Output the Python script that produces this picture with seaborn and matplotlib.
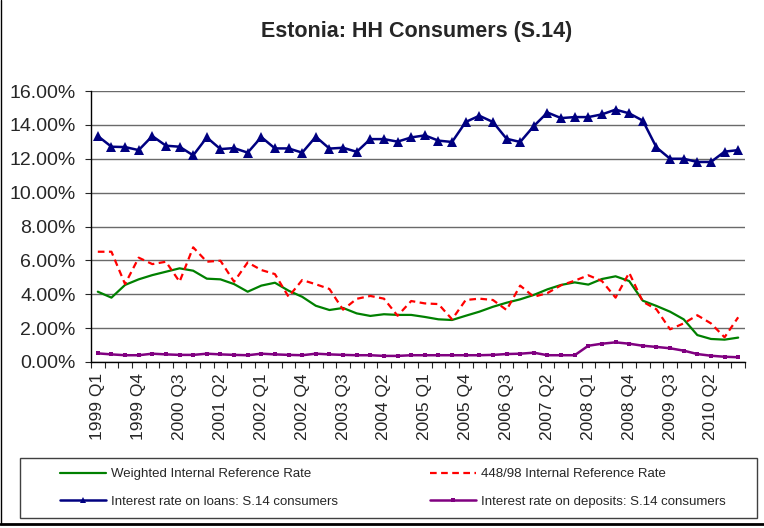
import numpy as np
import pandas as pd
import matplotlib.pyplot as plt
import seaborn as sns
from matplotlib.lines import Line2D
from matplotlib.patches import Rectangle
from matplotlib.ticker import FixedLocator, FuncFormatter

# quarters 1999 Q1 .. 2010 Q4
years = [str(y) for y in range(1999, 2011)]
quarters = [f"{y} Q{q}" for y in years for q in range(1, 5)]

weighted_rate = [4.15, 3.80, 4.55, 4.88, 5.13, 5.33, 5.53, 5.39, 4.92, 4.88, 4.60, 4.15,
                 4.51, 4.68, 4.21, 3.85, 3.32, 3.07, 3.19, 2.87, 2.72, 2.82, 2.78, 2.78,
                 2.66, 2.52, 2.48, 2.73, 2.97, 3.26, 3.50, 3.70, 3.96, 4.29, 4.55, 4.70,
                 4.57, 4.90, 5.06, 4.78, 3.62, 3.31, 2.97, 2.52, 1.59, 1.36, 1.32, 1.44]
rate_448 = [6.51, 6.51, 4.60, 6.16, 5.78, 5.92, 4.74, 6.77, 5.92, 5.98, 4.74, 5.88,
            5.43, 5.19, 3.85, 4.84, 4.59, 4.31, 3.09, 3.73, 3.90, 3.74, 2.73, 3.60,
            3.46, 3.42, 2.52, 3.66, 3.74, 3.66, 3.07, 4.51, 3.85, 4.07, 4.53, 4.80,
            5.12, 4.78, 3.80, 5.27, 3.56, 3.11, 1.93, 2.28, 2.76, 2.28, 1.46, 2.64]
loans_rate = [13.34, 12.71, 12.69, 12.51, 13.34, 12.77, 12.71, 12.20, 13.26, 12.57, 12.63, 12.36,
              13.28, 12.61, 12.61, 12.36, 13.30, 12.60, 12.65, 12.41, 13.16, 13.16, 13.01, 13.26,
              13.38, 13.07, 12.99, 14.17, 14.54, 14.17, 13.18, 12.99, 13.93, 14.73, 14.40, 14.46,
              14.46, 14.62, 14.90, 14.68, 14.25, 12.67, 12.00, 12.00, 11.81, 11.81, 12.42, 12.51]
deposits_rate = [0.51, 0.45, 0.40, 0.40, 0.49, 0.45, 0.42, 0.42, 0.49, 0.45, 0.42, 0.40,
                 0.49, 0.45, 0.42, 0.40, 0.49, 0.45, 0.42, 0.40, 0.40, 0.36, 0.36, 0.40,
                 0.40, 0.40, 0.40, 0.40, 0.40, 0.42, 0.47, 0.49, 0.55, 0.40, 0.40, 0.40,
                 0.96, 1.08, 1.16, 1.08, 0.96, 0.89, 0.81, 0.67, 0.47, 0.37, 0.31, 0.28]

df = pd.DataFrame({'period': quarters, 'pos': np.arange(len(quarters)),
                   'weighted': weighted_rate, 'r448': rate_448,
                   'loans': loans_rate, 'deposits': deposits_rate})

sns.set_style("white")
plt.rcParams['font.family'] = ['Liberation Sans', 'DejaVu Sans']

fig = plt.figure(figsize=(7.64, 5.28), dpi=100)
ax = fig.add_axes([91/764, 1 - 362/528, 654/764, 271/528])

sns.lineplot(data=df, x='pos', y='weighted', ax=ax, color='#008000', lw=1.6)
sns.lineplot(data=df, x='pos', y='r448', ax=ax, color='#ff0000', lw=1.6)
ax.lines[-1].set_dashes([3, 2])
sns.lineplot(data=df, x='pos', y='loans', ax=ax, color='#000080', lw=1.8,
             marker='^', markersize=6.5, markeredgewidth=0)
sns.lineplot(data=df, x='pos', y='deposits', ax=ax, color='#800080', lw=1.8,
             marker='s', markersize=3, markeredgewidth=0)

ax.set_xlim(-0.5, len(quarters) - 0.5)
ax.set_ylim(0, 16)
ax.set_yticks(np.arange(0, 17, 2))
ax.yaxis.set_major_formatter(FuncFormatter(lambda v, p: f"{v:.2f}%"))
ax.grid(axis='y', color='#6a6a6a', lw=1)
ax.set_axisbelow(True)

label_pos = list(range(0, len(quarters), 3))
ax.set_xticks(label_pos)
ax.set_xticklabels([quarters[i] for i in label_pos], rotation=90)
ax.xaxis.set_minor_locator(FixedLocator(np.arange(-0.5, len(quarters), 1)))
ax.tick_params(axis='x', which='major', length=0, pad=8, labelsize=12.5)
ax.tick_params(axis='x', which='minor', length=4, width=0.8, direction='out', bottom=True)
ax.tick_params(axis='y', length=4, width=0.8, direction='out', left=True, pad=7, labelsize=14)
ax.set_xlabel('')
ax.set_ylabel('')

for s in ['top', 'right']:
    ax.spines[s].set_visible(False)
for s in ['left', 'bottom']:
    ax.spines[s].set_color('black')
    ax.spines[s].set_linewidth(1)

fig.text(417/764, 1 - 32/528, 'Estonia: HH Consumers (S.14)', ha='center', va='center',
         fontsize=15.5, fontweight='bold')

handles = [Line2D([], [], color='#008000', lw=1.6),
           Line2D([], [], color='#000080', lw=1.8, marker='^', markersize=4, markeredgewidth=0),
           Line2D([], [], color='#ff0000', lw=1.6, dashes=[3, 2]),
           Line2D([], [], color='#800080', lw=1.8, marker='s', markersize=2.5, markeredgewidth=0)]
labels = ['Weighted Internal Reference Rate', 'Interest rate on loans: S.14 consumers',
          '448/98 Internal Reference Rate', 'Interest rate on deposits: S.14 consumers']
fig.legend(handles, labels, ncol=2, loc='center left', bbox_to_anchor=(60/764, 1 - 488/528),
           frameon=False, fontsize=9.5, handlelength=3.5, handletextpad=0.4,
           columnspacing=6.9, labelspacing=1.14, borderpad=0, borderaxespad=0)

fig.patches.append(Rectangle((20/764, 1 - 518/528), 737/764, 60/528, transform=fig.transFigure,
                             fill=False, edgecolor='#404040', lw=1))
fig.lines.append(Line2D([1/764, 1/764], [1 - 524/528, 1], transform=fig.transFigure,
                        color='black', lw=1))
fig.lines.append(Line2D([0, 1], [1 - 524/528, 1 - 524/528], transform=fig.transFigure,
                        color='black', lw=2))

fig.savefig('out.png', dpi=100)
